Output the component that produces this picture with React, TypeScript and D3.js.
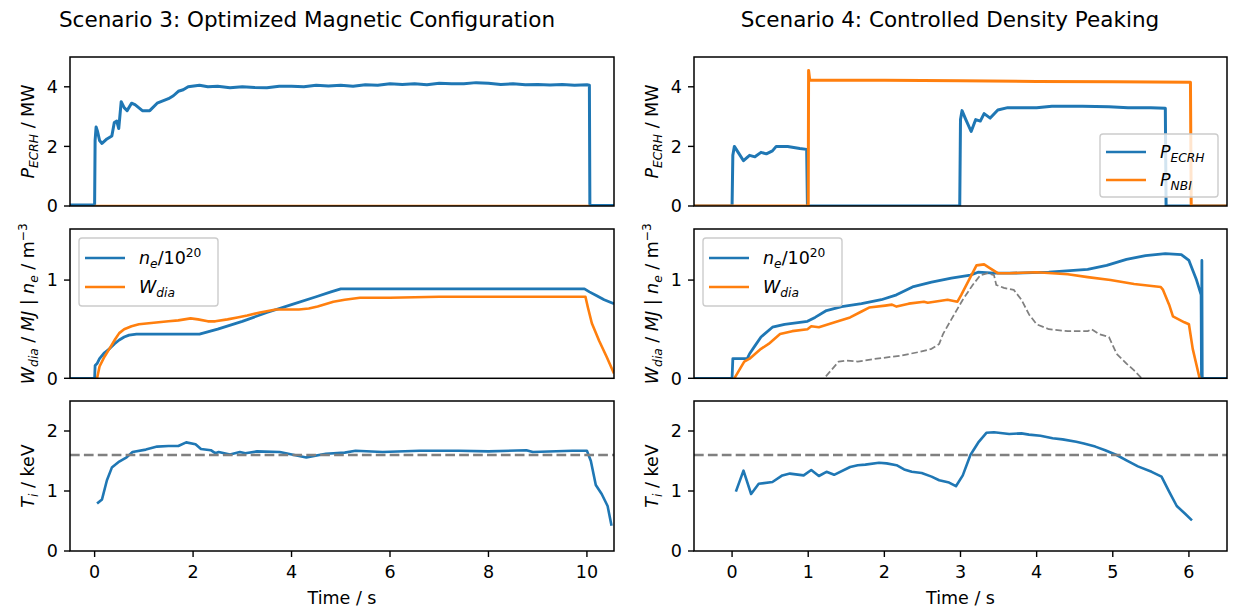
import React, { useRef, useEffect } from 'react';
import * as d3 from 'd3';

type Pt = [number, number];

const W = 1233;
const H = 610;
const blue = '#1f77b4';
const orange = '#ff7f0e';
const gray = '#808080';
const FS = 17.5;

// ---- Scenario 3 ----
const s3Pecrh: Pt[] = [
  [-0.5, 0.03], [0.0, 0.03], [0.01, 2.2], [0.03, 2.65], [0.06, 2.5], [0.1, 2.2], [0.15, 2.1],
  [0.25, 2.25], [0.35, 2.35], [0.4, 2.8], [0.45, 2.85], [0.49, 2.6], [0.54, 3.5], [0.6, 3.3],
  [0.66, 3.2], [0.75, 3.45], [0.82, 3.4], [0.97, 3.2], [1.12, 3.2], [1.27, 3.45], [1.5, 3.6],
  [1.6, 3.7], [1.7, 3.85], [1.8, 3.9], [1.9, 4.0], [2.13, 4.05], [2.3, 4.0], [2.5, 4.02],
  [2.75, 3.97], [3.0, 4.0], [3.25, 3.98], [3.5, 3.97], [3.75, 4.02], [4.0, 4.02], [4.25, 4.0],
  [4.5, 4.05], [4.75, 4.03], [5.0, 4.05], [5.25, 4.02], [5.5, 4.07], [5.75, 4.05], [6.0, 4.1],
  [6.25, 4.08], [6.5, 4.1], [6.75, 4.07], [7.0, 4.12], [7.25, 4.1], [7.5, 4.1], [7.75, 4.14],
  [8.0, 4.12], [8.25, 4.08], [8.5, 4.1], [8.75, 4.07], [9.0, 4.08], [9.25, 4.06], [9.5, 4.08],
  [9.75, 4.05], [10.0, 4.07], [10.05, 4.05], [10.06, 0.02], [10.55, 0.02],
];
const s3Pnbi: Pt[] = [[0.0, 0], [10.05, 0]];

const s3Ne: Pt[] = [
  [-0.5, 0], [0.0, 0], [0.01, 0.13], [0.05, 0.15], [0.1, 0.2], [0.2, 0.26], [0.3, 0.3],
  [0.4, 0.35], [0.5, 0.39], [0.6, 0.42], [0.7, 0.44], [0.85, 0.45], [1.5, 0.45], [2.13, 0.45],
  [2.5, 0.5], [3.0, 0.58], [3.5, 0.67], [4.0, 0.75], [4.5, 0.83], [4.8, 0.88], [5.0, 0.91],
  [6.0, 0.91], [8.0, 0.91], [9.95, 0.91], [10.05, 0.88], [10.2, 0.84], [10.35, 0.8], [10.55, 0.76],
];
const s3Wdia: Pt[] = [
  [0.05, 0], [0.1, 0.12], [0.2, 0.22], [0.3, 0.3], [0.42, 0.4], [0.5, 0.46], [0.6, 0.5],
  [0.75, 0.53], [0.9, 0.55], [1.1, 0.56], [1.3, 0.57], [1.5, 0.58], [1.7, 0.59], [1.95, 0.61],
  [2.1, 0.6], [2.3, 0.58], [2.45, 0.58], [2.7, 0.6], [2.9, 0.62], [3.1, 0.64], [3.36, 0.67],
  [3.68, 0.7], [4.15, 0.7], [4.35, 0.71], [4.53, 0.73], [4.85, 0.78], [5.08, 0.8], [5.39, 0.82],
  [6.0, 0.82], [7.0, 0.83], [8.0, 0.83], [9.0, 0.83], [9.97, 0.83], [10.02, 0.72], [10.1, 0.56],
  [10.25, 0.38], [10.4, 0.22], [10.55, 0.05],
];
const s3Ti: Pt[] = [
  [0.05, 0.79], [0.15, 0.86], [0.25, 1.18], [0.35, 1.39], [0.5, 1.49], [0.65, 1.56], [0.77, 1.65],
  [1.04, 1.69], [1.27, 1.74], [1.5, 1.75], [1.7, 1.75], [1.86, 1.81], [2.05, 1.78], [2.16, 1.7],
  [2.36, 1.68], [2.45, 1.63], [2.52, 1.65], [2.75, 1.61], [2.95, 1.65], [3.06, 1.63], [3.3, 1.66],
  [3.76, 1.65], [4.3, 1.56], [4.7, 1.62], [5.08, 1.64], [5.3, 1.67], [5.85, 1.65], [6.6, 1.67],
  [7.4, 1.67], [8.0, 1.66], [8.77, 1.68], [8.9, 1.65], [9.7, 1.67], [10.0, 1.67], [10.08, 1.5],
  [10.18, 1.1], [10.3, 0.95], [10.42, 0.75], [10.5, 0.42],
];

// ---- Scenario 4 ----
const s4Pecrh: Pt[] = [
  [-0.5, 0], [0.0, 0], [0.01, 1.7], [0.03, 2.0], [0.08, 1.8], [0.15, 1.52], [0.23, 1.7],
  [0.3, 1.65], [0.38, 1.8], [0.45, 1.75], [0.53, 1.85], [0.58, 2.0], [0.73, 2.0], [0.89, 1.93],
  [0.98, 1.9], [0.99, 0], [2.99, 0], [3.0, 2.9], [3.02, 3.2], [3.07, 2.9], [3.14, 2.5],
  [3.2, 2.9], [3.26, 2.85], [3.31, 3.1], [3.39, 2.95], [3.49, 3.22], [3.62, 3.3], [4.0, 3.3],
  [4.2, 3.35], [4.6, 3.35], [4.95, 3.33], [5.2, 3.3], [5.5, 3.3], [5.69, 3.28], [5.7, 0], [6.5, 0],
];
const s4Pnbi: Pt[] = [
  [-0.5, 0], [1.0, 0], [1.005, 4.55], [1.02, 4.22], [2.0, 4.22], [3.0, 4.2], [4.0, 4.18],
  [5.0, 4.17], [6.02, 4.15], [6.03, 0], [6.5, 0],
];
const s4Ne: Pt[] = [
  [-0.5, 0], [0.0, 0], [0.01, 0.2], [0.2, 0.2], [0.23, 0.25], [0.3, 0.33], [0.38, 0.42],
  [0.53, 0.52], [0.69, 0.55], [0.99, 0.58], [1.09, 0.62], [1.24, 0.69], [1.44, 0.73], [1.7, 0.76],
  [1.96, 0.8], [2.16, 0.85], [2.37, 0.93], [2.62, 0.98], [2.88, 1.02], [3.13, 1.05], [3.23, 1.08],
  [3.44, 1.07], [3.64, 1.07], [4.16, 1.08], [4.67, 1.11], [4.92, 1.15], [5.18, 1.21], [5.43, 1.25],
  [5.69, 1.27], [5.9, 1.26], [6.0, 1.2], [6.1, 1.0], [6.16, 0.85], [6.165, 0], [6.17, 1.2],
  [6.175, 0], [6.5, 0],
];
const s4Wdia: Pt[] = [
  [0.03, 0], [0.16, 0.17], [0.23, 0.2], [0.38, 0.3], [0.48, 0.35], [0.63, 0.45], [0.79, 0.48],
  [0.99, 0.5], [1.04, 0.53], [1.14, 0.52], [1.39, 0.58], [1.55, 0.62], [1.7, 0.68], [1.8, 0.72],
  [2.01, 0.74], [2.1, 0.75], [2.16, 0.73], [2.32, 0.76], [2.52, 0.78], [2.57, 0.77], [2.83, 0.8],
  [2.96, 0.78], [3.01, 0.85], [3.11, 1.0], [3.21, 1.15], [3.31, 1.16], [3.39, 1.12], [3.49, 1.07],
  [3.64, 1.07], [4.0, 1.08], [4.41, 1.06], [4.67, 1.03], [4.97, 1.0], [5.28, 0.96], [5.63, 0.93],
  [5.66, 0.9], [5.74, 0.75], [5.79, 0.63], [5.94, 0.57], [6.0, 0.55], [6.05, 0.3], [6.14, 0],
];
const s4Peak: Pt[] = [
  [1.15, -0.05], [1.21, 0], [1.4, 0.17], [1.5, 0.18], [1.65, 0.17], [1.9, 0.2], [2.21, 0.23],
  [2.47, 0.27], [2.62, 0.3], [2.72, 0.35], [2.77, 0.45], [2.88, 0.6], [3.03, 0.8], [3.16, 0.95],
  [3.26, 1.05], [3.36, 1.07], [3.44, 1.05], [3.47, 0.95], [3.57, 0.92], [3.7, 0.9], [3.8, 0.8],
  [3.9, 0.65], [4.0, 0.55], [4.16, 0.5], [4.41, 0.48], [4.67, 0.48], [4.72, 0.5], [4.82, 0.45],
  [4.95, 0.42], [5.05, 0.25], [5.18, 0.15], [5.28, 0.08], [5.38, 0], [5.45, -0.05],
];
const s4Ti: Pt[] = [
  [0.05, 0.99], [0.15, 1.34], [0.25, 0.95], [0.35, 1.12], [0.53, 1.15], [0.66, 1.26], [0.76, 1.29],
  [0.94, 1.26], [1.04, 1.35], [1.14, 1.25], [1.24, 1.32], [1.34, 1.27], [1.55, 1.4], [1.65, 1.43],
  [1.75, 1.44], [1.93, 1.47], [2.03, 1.46], [2.16, 1.43], [2.26, 1.36], [2.36, 1.32], [2.49, 1.3],
  [2.62, 1.24], [2.72, 1.18], [2.85, 1.14], [2.94, 1.08], [3.03, 1.26], [3.13, 1.6], [3.24, 1.82],
  [3.34, 1.97], [3.44, 1.98], [3.64, 1.95], [3.8, 1.96], [3.9, 1.94], [4.05, 1.92], [4.21, 1.88],
  [4.34, 1.86], [4.52, 1.82], [4.62, 1.79], [4.77, 1.74], [4.9, 1.68], [5.05, 1.6], [5.18, 1.51],
  [5.33, 1.41], [5.51, 1.32], [5.64, 1.24], [5.74, 0.99], [5.84, 0.75], [5.95, 0.62], [6.04, 0.51],
];

const tiRef = 1.6;

const titles = ['Scenario 3: Optimized Magnetic Configuration', 'Scenario 4: Controlled Density Peaking'];
const xTicks = [[0, 2, 4, 6, 8, 10], [0, 1, 2, 3, 4, 5, 6]];
const yTicks = [[0, 2, 4], [0, 1], [0, 1, 2]];
const xDomains: Pt[] = [[-0.5, 10.55], [-0.5, 6.5]];
const yDomains: Pt[] = [[0, 5], [0, 1.52], [0, 2.5]];

type Piece = { s: string; it?: boolean; sub?: boolean; sup?: boolean };

const yLabels: Piece[][] = [
  [{ s: 'P', it: true }, { s: 'ECRH', it: true, sub: true }, { s: ' / MW' }],
  [
    { s: 'W', it: true }, { s: 'dia', it: true, sub: true }, { s: ' / ' }, { s: 'MJ', it: true },
    { s: ' | ' }, { s: 'n', it: true }, { s: 'e', it: true, sub: true }, { s: ' / m' }, { s: '\u22123', sup: true },
  ],
  [{ s: 'T', it: true }, { s: 'i', it: true, sub: true }, { s: ' / keV' }],
];
const lgNe: Piece[] = [{ s: 'n', it: true }, { s: 'e', it: true, sub: true }, { s: '/10' }, { s: '20', sup: true }];
const lgW: Piece[] = [{ s: 'W', it: true }, { s: 'dia', it: true, sub: true }];
const lgPe: Piece[] = [{ s: 'P', it: true }, { s: 'ECRH', it: true, sub: true }];
const lgPn: Piece[] = [{ s: 'P', it: true }, { s: 'NBI', it: true, sub: true }];

const colX: Pt[] = [[70, 614], [694, 1227]];
const rowY: Pt[] = [[57, 206], [229, 378.3], [401, 551]];
const titleX = [307, 950];

type Series = { data: Pt[]; color: string; width: number; dash?: string };

function rich(sel: any, pieces: Piece[], size: number) {
  let shift = 0;
  pieces.forEach((p) => {
    const target = p.sub ? size * 0.22 : p.sup ? -size * 0.4 : 0;
    sel.append('tspan')
      .attr('dy', target - shift)
      .attr('font-size', p.sub || p.sup ? size * 0.7 : size)
      .attr('font-style', p.it ? 'italic' : 'normal')
      .text(p.s);
    shift = target;
  });
}

const App = () => {
  const ref = useRef<SVGSVGElement>(null);

  useEffect(() => {
    const svg = d3.select(ref.current);
    svg.selectAll('*').remove();
    svg.append('rect').attr('width', W).attr('height', H).attr('fill', '#fff');

    const panels: Series[][][] = [
      [
        [{ data: s3Pecrh, color: blue, width: 3 }, { data: s3Pnbi, color: orange, width: 2.6 }],
        [{ data: s3Ne, color: blue, width: 2.8 }, { data: s3Wdia, color: orange, width: 2.6 }],
        [{ data: s3Ti, color: blue, width: 2.6 }],
      ],
      [
        [{ data: s4Pecrh, color: blue, width: 3 }, { data: s4Pnbi, color: orange, width: 3 }],
        [
          { data: s4Ne, color: blue, width: 2.8 },
          { data: s4Wdia, color: orange, width: 2.6 },
          { data: s4Peak, color: gray, width: 1.75, dash: '6.5,2.8' },
        ],
        [{ data: s4Ti, color: blue, width: 2.6 }],
      ],
    ];

    colX.forEach(([x0, x1], c) => {
      const x = d3.scaleLinear().domain(xDomains[c]).range([x0, x1]);

      svg.append('text')
        .attr('x', titleX[c]).attr('y', 27)
        .attr('text-anchor', 'middle').attr('font-size', 21.5)
        .text(titles[c]);

      rowY.forEach(([y0, y1], r) => {
        const y = d3.scaleLinear().domain(yDomains[r]).range([y1, y0]);
        const g = svg.append('g');
        const clipId = `clip-${c}-${r}`;
        g.append('clipPath').attr('id', clipId)
          .append('rect').attr('x', x0).attr('y', y0).attr('width', x1 - x0).attr('height', y1 - y0);

        const line = d3.line<Pt>().x((d) => x(d[0])).y((d) => y(d[1]));
        const plot = g.append('g').attr('clip-path', `url(#${clipId})`);
        panels[c][r].forEach((s) => {
          plot.append('path')
            .attr('d', line(s.data))
            .attr('fill', 'none')
            .attr('stroke', s.color)
            .attr('stroke-width', s.width)
            .attr('stroke-linejoin', 'round')
            .attr('stroke-dasharray', s.dash || null);
        });
        if (r === 2) {
          plot.append('path')
            .attr('d', line([[xDomains[c][0], tiRef], [xDomains[c][1], tiRef]]))
            .attr('stroke', gray).attr('stroke-width', 2.6)
            .attr('stroke-dasharray', '9.7,4.2');
        }

        // frame
        g.append('rect')
          .attr('x', x0).attr('y', y0).attr('width', x1 - x0).attr('height', y1 - y0)
          .attr('fill', 'none').attr('stroke', '#000').attr('stroke-width', 1.5);

        // y ticks
        yTicks[r].forEach((t) => {
          g.append('line')
            .attr('x1', x0 - 6).attr('x2', x0).attr('y1', y(t)).attr('y2', y(t))
            .attr('stroke', '#000').attr('stroke-width', 1.4);
          g.append('text')
            .attr('x', x0 - 12).attr('y', y(t) + 6.3)
            .attr('text-anchor', 'end').attr('font-size', FS)
            .text(t);
        });

        // y label
        const yl = g.append('text')
          .attr('transform', `translate(${x0 - 36},${(y0 + y1) / 2}) rotate(-90)`)
          .attr('text-anchor', 'middle')
          .style('white-space', 'pre');
        rich(yl, yLabels[r], FS);

        if (r === 2) {
          xTicks[c].forEach((t) => {
            g.append('line')
              .attr('x1', x(t)).attr('x2', x(t)).attr('y1', y1).attr('y2', y1 + 6)
              .attr('stroke', '#000').attr('stroke-width', 1.4);
            g.append('text')
              .attr('x', x(t)).attr('y', y1 + 27)
              .attr('text-anchor', 'middle').attr('font-size', FS)
              .text(t);
          });
          svg.append('text')
            .attr('x', (x0 + x1) / 2).attr('y', 604)
            .attr('text-anchor', 'middle').attr('font-size', FS)
            .text('Time / s');
        }
      });
    });

    // legends
    const legend = (bx: number, by: number, bw: number, bh: number, rows: [string, Piece[], number][]) => {
      const lg = svg.append('g');
      lg.append('rect')
        .attr('x', bx).attr('y', by).attr('width', bw).attr('height', bh).attr('rx', 3)
        .attr('fill', '#fff').attr('fill-opacity', 0.8)
        .attr('stroke', '#cccccc').attr('stroke-width', 1.4);
      rows.forEach(([col, label, ry]) => {
        lg.append('line')
          .attr('x1', bx + 6).attr('x2', bx + 46).attr('y1', ry).attr('y2', ry)
          .attr('stroke', col).attr('stroke-width', 2.6);
        const t = lg.append('text')
          .attr('x', bx + 60).attr('y', ry + 6)
          .style('white-space', 'pre');
        rich(t, label, FS);
      });
    };
    legend(79, 238, 139, 68, [[blue, lgNe, 258], [orange, lgW, 287]]);
    legend(703, 238, 139, 68, [[blue, lgNe, 258], [orange, lgW, 287]]);
    legend(1100, 134, 118, 63, [[blue, lgPe, 152], [orange, lgPn, 180]]);

    return () => {
      svg.selectAll('*').remove();
    };
  }, []);

  return (
    <svg
      ref={ref}
      width={W}
      height={H}
      style={{ position: 'absolute', left: 0, top: 0, fontFamily: 'DejaVu Sans' }}
    />
  );
};

export default App;
